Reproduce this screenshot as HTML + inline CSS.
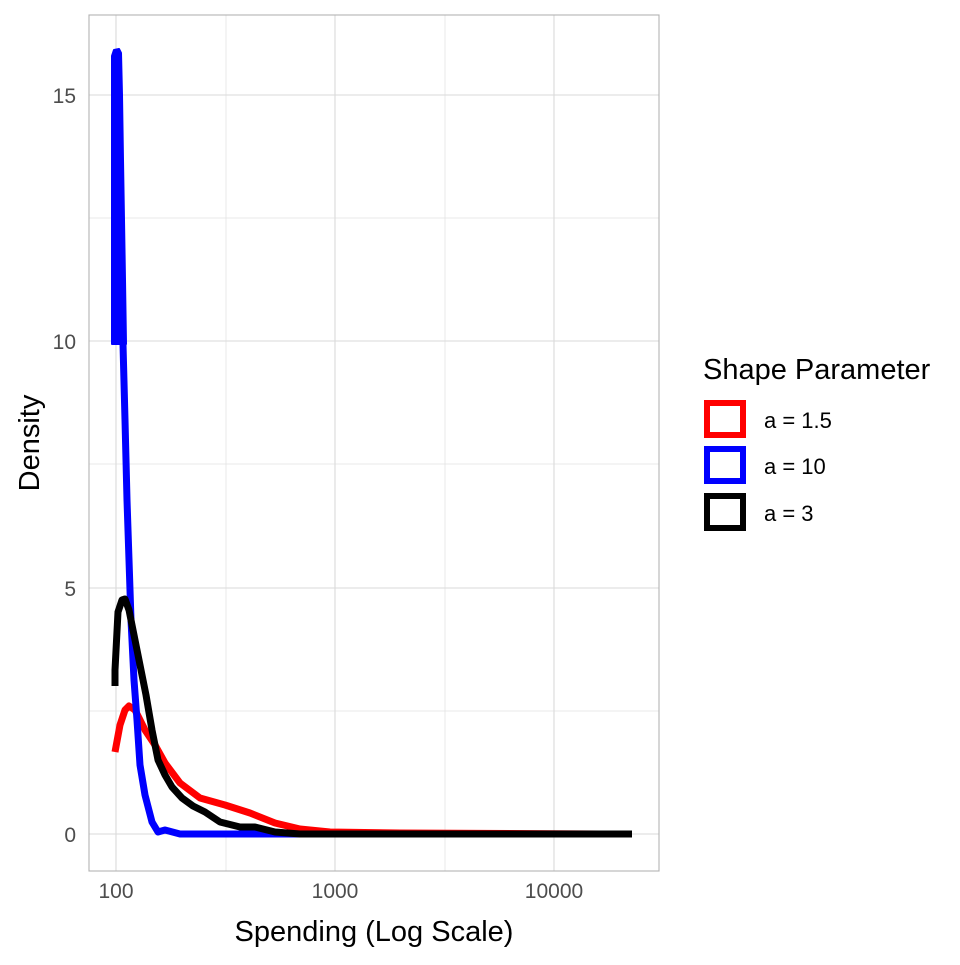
<!DOCTYPE html>
<html><head><style>body{margin:0;background:#fff}</style></head><body>
<svg width="960" height="960" xmlns="http://www.w3.org/2000/svg" font-family="Liberation Sans, sans-serif">
<rect width="960" height="960" fill="#fff"/>
<g stroke="#e3e3e3" stroke-width="0.8">
<line x1="89" x2="659" y1="711" y2="711"/><line x1="89" x2="659" y1="464" y2="464"/><line x1="89" x2="659" y1="218" y2="218"/>
<line x1="226" x2="226" y1="15" y2="871"/><line x1="445" x2="445" y1="15" y2="871"/>
</g>
<g stroke="#dadada" stroke-width="1.1">
<line x1="89" x2="659" y1="834" y2="834"/><line x1="89" x2="659" y1="588" y2="588"/><line x1="89" x2="659" y1="341" y2="341"/><line x1="89" x2="659" y1="95" y2="95"/>
<line x1="116" x2="116" y1="15" y2="871"/><line x1="335" x2="335" y1="15" y2="871"/><line x1="554" x2="554" y1="15" y2="871"/>
</g>
<g fill="none" stroke-linejoin="round" stroke-width="7">
<polyline stroke="#f00" points="115,752 120,725 125,710 129,706 135,710 145,730 155,745 165,763 180,783 200,798 225,805 250,813 275,823 300,829 330,832 400,833 600,834"/>
<polygon fill="#00f" stroke="#00f" stroke-width="2" points="112,56 114,50 119,49 121,53 122,95 123,160 124,220 125,280 126,344 112,344"/>
<polyline stroke="#00f" points="123,344 125,420 127,500 129,560 131,620 134,680 137,720 140,765 145,795 152,822 158,832 165,830 180,834 330,834"/>
<polyline stroke="#000" points="115,686 115,670 118,612 122,600 125,599 129,610 135,640 141,670 146,695 152,730 158,760 165,775 172,787 182,798 193,806 205,812 220,822 240,827 255,827 275,832 300,834 632,834"/>
</g>
<rect x="89" y="15" width="570" height="856" fill="none" stroke="#b3b3b3" stroke-width="1.1"/>
<g font-size="21" fill="#4d4d4d" text-anchor="end">
<text x="76" y="842">0</text><text x="76" y="596">5</text><text x="76" y="349">10</text><text x="76" y="103">15</text>
</g>
<g font-size="21" fill="#4d4d4d" text-anchor="middle">
<text x="116" y="898">100</text><text x="335" y="898">1000</text><text x="554" y="898">10000</text>
</g>
<text x="374" y="941" font-size="29" text-anchor="middle">Spending (Log Scale)</text>
<text transform="translate(39,443) rotate(-90)" font-size="29" text-anchor="middle">Density</text>
<text x="703" y="379" font-size="29">Shape Parameter</text>
<g fill="none" stroke-width="6">
<rect x="707" y="403" width="36" height="32" stroke="#f00"/>
<rect x="707" y="449" width="36" height="32" stroke="#00f"/>
<rect x="707" y="496" width="36" height="32" stroke="#000"/>
</g>
<g font-size="22">
<text x="764" y="428">a = 1.5</text><text x="764" y="474">a = 10</text><text x="764" y="521">a = 3</text>
</g>
</svg>
</body></html>
